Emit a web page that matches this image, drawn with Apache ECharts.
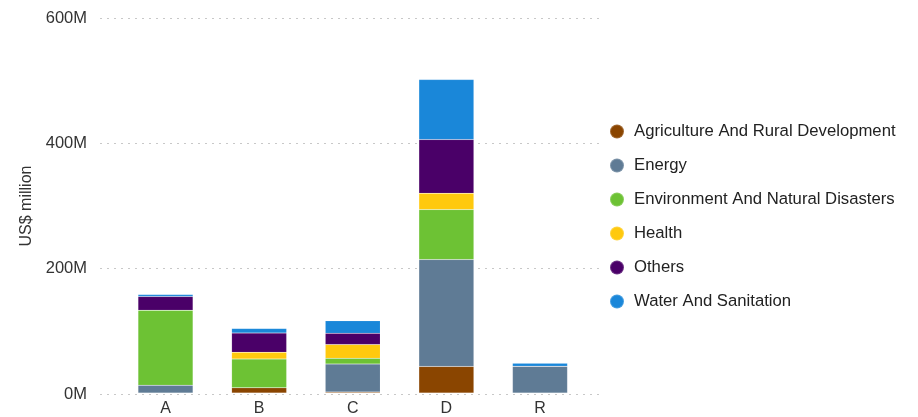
<!DOCTYPE html>
<html>
<head>
<meta charset="utf-8">
<script src="https://cdn.jsdelivr.net/npm/echarts@6/dist/echarts.min.js"></script>
<style>
html,body{margin:0;padding:0;background:#fff;}
#chart{width:918px;height:417px;}
</style>
</head>
<body>
<div id="chart"></div>
<script>
var categories = ['A', 'B', 'C', 'D', 'R'];
var agriculture = [0, 8.5, 1.5, 42.5, 0];
var energy = [12.5, 0, 45, 171, 43];
var environment = [120, 46, 9, 80, 0];
var health = [0, 10.6, 22, 26, 0];
var others = [22, 30.8, 18, 86, 0];
var water = [3, 7.5, 20, 96, 4.5];
var yTicks = [0, 200, 400, 600];

var seriesNames = ['Agriculture And Rural Development', 'Energy', 'Environment And Natural Disasters', 'Health', 'Others', 'Water And Sanitation'];
var seriesData = [agriculture, energy, environment, health, others, water];
var colors = ['#8a4500', '#5f7b95', '#6dc234', '#ffc90e', '#4a0068', '#1a87d9'];

var chart = echarts.init(document.getElementById('chart'), null, {renderer: 'canvas'});
var font = 'Liberation Sans, Arial, sans-serif';

var option = {
  animation: false,
  color: colors,
  textStyle: {fontFamily: font},
  legend: {
    orient: 'vertical',
    left: 604,
    top: 118,
    icon: 'circle',
    itemWidth: 14,
    itemHeight: 14,
    itemGap: 17,
    textStyle: {fontSize: 16.7, color: '#222', fontFamily: font, lineHeight: 16, padding: [0, 0, 0, 5]},
    data: seriesNames
  },
  grid: [
    {left: 100, right: 314, top: 18, bottom: 23},
    {left: 118.7, right: 331.2, top: 18, bottom: 23}
  ],
  xAxis: [
    {gridIndex: 0, type: 'value', min: 0, max: 1, show: false},
    {gridIndex: 1, type: 'category', data: categories,
     axisLine: {show: false}, axisTick: {show: false},
     axisLabel: {fontSize: 16, color: '#333', margin: 8, fontFamily: font}}
  ],
  yAxis: [
    {gridIndex: 0, type: 'value', min: yTicks[0], max: yTicks[yTicks.length - 1], interval: 200,
     name: 'US$ million', nameLocation: 'middle', nameRotate: 90, nameGap: 65,
     nameTextStyle: {fontSize: 16, color: '#333', fontFamily: font},
     axisLine: {show: false}, axisTick: {show: false},
     axisLabel: {fontSize: 16.5, color: '#333', margin: 13, fontFamily: font, formatter: '{value}M'},
     splitLine: {show: true, lineStyle: {color: '#c8c8c8', width: 1, type: [2, 5]}}},
    {gridIndex: 1, type: 'value', min: yTicks[0], max: yTicks[yTicks.length - 1], interval: 200, show: false,
     splitLine: {show: false}}
  ],
  series: seriesNames.map(function (name, i) {
    return {
      name: name,
      type: 'bar',
      stack: 'total',
      xAxisIndex: 1,
      yAxisIndex: 1,
      barWidth: 55,
      data: seriesData[i],
      itemStyle: {color: colors[i], borderColor: 'rgba(255,255,255,0.2)', borderWidth: 0.5}
    };
  })
};
chart.setOption(option);
</script>
</body>
</html>
